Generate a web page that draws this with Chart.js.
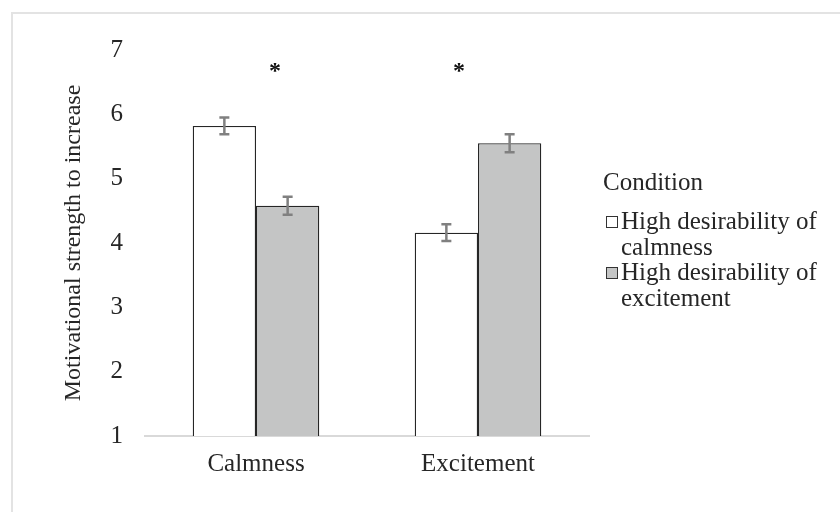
<!DOCTYPE html>
<html>
<head>
<meta charset="utf-8">
<script src="https://cdn.jsdelivr.net/npm/chart.js@4.4.1/dist/chart.umd.min.js"></script>
<style>
    body { margin: 0; background: #fff; }
    #wrap { position: relative; width: 840px; height: 512px; overflow: hidden; }
    #frame { position: absolute; left: 11px; top: 12px; width: 900px; height: 600px;
             border-top: 2px solid #e3e3e3; border-left: 2px solid #e3e3e3; }
    canvas { position: absolute; left: 0; top: 0; }
    #legend { position: absolute; left: 603px; top: 169px; font-family: "Liberation Serif", serif;
              font-size: 25px; color: #262626; }
    #legend .title { line-height: 25.5px; margin-bottom: 13.5px; }
    #legend .item { position: relative; padding-left: 18px; line-height: 25.5px; width: 230px; }
    #legend .box { position: absolute; left: 3px; top: 8px; width: 10px; height: 10px;
                   border: 1px solid #333; }
</style>
</head>
<body>
<div id="wrap">
    <div id="frame"></div>
    <canvas id="chart" width="840" height="512"></canvas>
    <div id="legend"></div>
</div>
<script>
// data
const categories = ['Calmness', 'Excitement'];
const seriesLabels = ['High desirability of calmness', 'High desirability of excitement'];
const calmValues = [5.82, 4.16];
const exciteValues = [4.58, 5.55];
const calmErrors = [0.13, 0.13];
const exciteErrors = [0.14, 0.14];
const sigMarks = ['*', '*'];
const sigLevel = 6.72;
const legendTitle = 'Condition';
const yTitle = 'Motivational strength to increase';

const serif = '"Liberation Serif", "Times New Roman", serif';
const textColor = '#262626';

// error bars drawn on top of each bar
const errorBars = {
    id: 'errorBars',
    afterDatasetsDraw(chart) {
        const ctx = chart.ctx;
        const y = chart.scales.y;
        chart.data.datasets.forEach((ds, di) => {
            const meta = chart.getDatasetMeta(di);
            meta.data.forEach((bar, i) => {
                const v = ds.data[i];
                const e = ds.errors[i];
                const top = y.getPixelForValue(v + e);
                const bottom = y.getPixelForValue(v - e);
                ctx.save();
                ctx.strokeStyle = '#808080';
                ctx.lineWidth = 2.5;
                ctx.beginPath();
                ctx.moveTo(bar.x, top);
                ctx.lineTo(bar.x, bottom);
                ctx.moveTo(bar.x - 5, top);
                ctx.lineTo(bar.x + 5, top);
                ctx.moveTo(bar.x - 5, bottom);
                ctx.lineTo(bar.x + 5, bottom);
                ctx.stroke();
                ctx.restore();
            });
        });
    }
};

// significance asterisks above each category
const sigStars = {
    id: 'sigStars',
    afterDatasetsDraw(chart) {
        const ctx = chart.ctx;
        const x = chart.scales.x;
        const y = chart.scales.y;
        const shift = [19, -19];
        ctx.save();
        ctx.fillStyle = '#111';
        ctx.font = 'bold 24px ' + serif;
        ctx.textAlign = 'center';
        ctx.textBaseline = 'middle';
        sigMarks.forEach((m, i) => {
            ctx.fillText(m, x.getPixelForValue(i) + shift[i], y.getPixelForValue(sigLevel) + 4);
        });
        ctx.restore();
    }
};

const ctx = document.getElementById('chart').getContext('2d');
new Chart(ctx, {
    type: 'bar',
    data: {
        labels: categories,
        datasets: [{
            label: seriesLabels[0],
            data: calmValues,
            errors: calmErrors,
            backgroundColor: '#ffffff',
            borderColor: '#262626',
            borderWidth: 1.3
        }, {
            label: seriesLabels[1],
            data: exciteValues,
            errors: exciteErrors,
            backgroundColor: '#c4c5c5',
            borderColor: '#262626',
            borderWidth: 1.3
        }]
    },
    options: {
        responsive: false,
        animation: false,
        layout: { padding: { top: 50, left: 0, right: 251, bottom: 0 } },
        categoryPercentage: 0.57,
        barPercentage: 1,
        plugins: {
            legend: { display: false },
            tooltip: { enabled: false }
        },
        scales: {
            x: {
                grid: { display: false, drawTicks: false },
                border: { color: '#d9d9d9', width: 2 },
                ticks: { color: textColor, font: { family: serif, size: 25 }, padding: 13 },
                afterFit(scale) { scale.height = 76; }
            },
            y: {
                min: 1,
                max: 7,
                grid: { display: false, drawTicks: false },
                border: { display: false },
                ticks: { stepSize: 1, color: textColor, font: { family: serif, size: 25 }, padding: 22 },
                title: {
                    display: true,
                    text: yTitle,
                    color: textColor,
                    font: { family: serif, size: 24 },
                    padding: { top: 59, bottom: 0 }
                },
                afterFit(scale) { scale.width = 145; }
            }
        }
    },
    plugins: [errorBars, sigStars]
});

// legend as html so long labels can wrap like the original
const legend = document.getElementById('legend');
const t = document.createElement('div');
t.className = 'title';
t.textContent = legendTitle;
legend.appendChild(t);
const fills = ['#ffffff', '#c4c5c5'];
seriesLabels.forEach((label, i) => {
    const item = document.createElement('div');
    item.className = 'item';
    const box = document.createElement('span');
    box.className = 'box';
    box.style.background = fills[i];
    item.appendChild(box);
    item.appendChild(document.createTextNode(label));
    legend.appendChild(item);
});
</script>
</body>
</html>
